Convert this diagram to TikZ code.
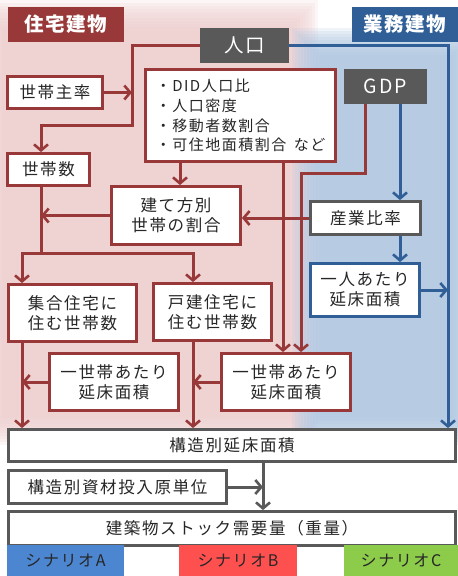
\documentclass[tikz,border=0pt]{standalone}
\usepackage{fontspec}
\setmainfont{Noto Sans CJK JP}
\newfontfamily\jp[LetterSpace=10]{Noto Sans CJK JP}
\newfontfamily\jpb[LetterSpace=8]{Noto Sans CJK JP}
\usetikzlibrary{arrows.meta}
\definecolor{cred}{HTML}{983838}
\definecolor{cblue}{HTML}{2F5F96}
\definecolor{cgray}{HTML}{595959}
\definecolor{pinkbg}{HTML}{EFCFCF}
\definecolor{bluebg}{HTML}{AFC6E2}
\definecolor{scA}{HTML}{4C86D0}
\definecolor{scB}{HTML}{FF5050}
\definecolor{scC}{HTML}{8DCB4A}
\definecolor{txt}{HTML}{262626}
\tikzset{
  box/.style={draw, line width=2.8pt, fill=white, inner sep=0pt, align=center,
    font=\jp\fontsize{16.5}{20}\selectfont, text=txt},
  rbox/.style={box, draw=cred},
  bbox/.style={box, draw=cblue},
  gbox/.style={box, draw=cgray},
  dbox/.style={fill=cgray, inner sep=0pt, text=white, font=\jp\fontsize{19.5}{22}\selectfont},
  titlebox/.style={inner sep=0pt, text=white, font=\jpb\bfseries\fontsize{19.5}{22}\selectfont},
  scen/.style={inner sep=0pt, text=txt, font=\jp\fontsize{16}{18}\selectfont},
  arr/.style={-{Straight Barb[length=6pt,width=14pt,line width=2.6pt]}},
  rl/.style={draw=cred, line width=3pt},
  bl/.style={draw=cblue, line width=3pt},
  gl/.style={draw=cgray, line width=3pt},
}
\begin{document}
\begin{tikzpicture}[x=1pt,y=-1pt]
\useasboundingbox (0,0) rectangle (458,576);
\fill[white] (0,0) rectangle (458,576);
% backgrounds (soft edges)
\foreach \i in {0,...,9}{
  \fill[pinkbg, opacity=0.18] (-25+\i*3, 0+\i*3) rectangle (318-\i*3, 445-\i*3);
}
\foreach \i in {0,...,9}{
  \fill[bluebg, opacity=0.19] (292+\i*3, 28+\i*3) rectangle (480-\i*3, 445-\i*3);
}
% titles
\node[titlebox, fill=cred, minimum width=116pt, minimum height=35pt] (tjutaku) at (66,24.5) {住宅建物};
\node[titlebox, fill=cblue, minimum width=106pt, minimum height=35pt] (tgyomu) at (405,24.5) {業務建物};
% dark boxes
\node[dbox, minimum width=89pt, minimum height=35pt] (jinko) at (244.5,45.5) {人口};
\node[dbox, minimum width=83pt, minimum height=35pt] (gdp) at (385.5,86.5) {GDP};
% red boxes
\node[rbox, minimum width=95pt, minimum height=32pt] (setainushi) at (55,92.5) {世帯主率};
\node[rbox, minimum width=190pt, minimum height=92pt, align=left, font=\jp\fontsize{15}{19.8}\selectfont] (bullet) at (240.5,115.5)
  {・DID人口比\\・人口密度\\・移動者数割合\\・可住地面積割合\hspace{0.5em}など};
\node[rbox, minimum width=82pt, minimum height=32pt] (setaisu) at (48.5,169.5) {世帯数};
\node[rbox, minimum width=129pt, minimum height=58pt] (tatekata) at (176,215.5) {建て方別\\世帯の割合};
\node[rbox, minimum width=128pt, minimum height=57pt] (shugo) at (72.5,313) {集合住宅に\\住む世帯数};
\node[rbox, minimum width=118pt, minimum height=57pt] (kodate) at (212.5,312) {戸建住宅に\\住む世帯数};
\node[rbox, minimum width=129pt, minimum height=57pt] (ichiL) at (114,382) {一世帯あたり\\延床面積};
\node[rbox, minimum width=129pt, minimum height=57pt] (ichiR) at (286,382) {一世帯あたり\\延床面積};
% blue / gray boxes
\node[gbox, minimum width=110pt, minimum height=33pt] (sangyo) at (365.5,218) {産業比率};
\node[bbox, minimum width=109pt, minimum height=53pt] (hitori) at (365,290) {一人あたり\\延床面積};
\node[gbox, minimum width=447pt, minimum height=32pt] (kozo) at (232,445.5) {構造別延床面積};
\node[gbox, minimum width=218pt, minimum height=33pt] (shizai) at (117.5,487) {構造別資材投入原単位};
\node[gbox, minimum width=447pt, minimum height=34pt] (stock) at (232,528.5) {建築物ストック需要量（重量）};
% scenarios
\node[scen, fill=scA, minimum width=117pt, minimum height=31pt] (scenA) at (65.5,560.5) {シナリオA};
\node[scen, fill=scB, minimum width=118pt, minimum height=31pt] (scenB) at (238,560.5) {シナリオB};
\node[scen, fill=scC, minimum width=114pt, minimum height=31pt] (scenC) at (401,560.5) {シナリオC};
% helper coordinates
\coordinate (xA) at (22,0);
\coordinate (xB) at (41,0);
\coordinate (xC) at (132,0);
\coordinate (xD) at (193,0);
\coordinate (xE) at (180,0);
\coordinate (xF) at (283,0);
\coordinate (xG) at (301,0);
\coordinate (xH) at (365,0);
\coordinate (xI) at (400,0);
\coordinate (xJ) at (448,0);
\coordinate (xK) at (263,0);
\coordinate (yK) at (0,125);
\coordinate (yG) at (0,173);
\coordinate (yBr) at (0,253);
% connectors
\draw[rl, arr] (jinko.west) -| (xC |- yK) -| (setaisu.north -| xB);
\draw[rl, arr] (setainushi.east) -- (setainushi.east -| xC);
\draw[bl, arr] (jinko.east) -| (kozo.north -| xJ);
\draw[bl, arr] (gdp.south -| xI) -- (sangyo.north -| xI);
\draw[rl, arr] (gdp.south -| xH) |- (yG -| xG) -- (ichiR.north -| xG);
\draw[rl, arr] (bullet.south -| xF) -- (ichiR.north -| xF);
\draw[rl, arr] (bullet.south -| xE) -- (tatekata.north -| xE);
\draw[rl, arr] (sangyo.west) -- (sangyo.west -| tatekata.east);
\draw[bl, arr] (sangyo.south -| xI) -- (hitori.north -| xI);
\draw[bl, arr] (hitori.east) -- (hitori.east -| xJ);
\draw[rl] (setaisu.south -| xB) -- (yBr -| xB);
\draw[rl, arr] (yBr -| xB) -| (shugo.north -| xA);
\draw[rl, arr] (yBr -| xB) -| (kodate.north -| xD);
\draw[rl, arr] (tatekata.west) -- (tatekata.west -| xB);
\draw[rl, arr] (shugo.south -| xA) -- (kozo.north -| xA);
\draw[rl, arr] (ichiL.west) -- (ichiL.west -| xA);
\draw[rl, arr] (kodate.south -| xD) -- (kozo.north -| xD);
\draw[rl, arr] (ichiR.west) -- (ichiR.west -| xD);
\draw[gl, arr] (kozo.south -| xK) -- (stock.north -| xK);
\draw[gl, arr] (shizai.east) -- (shizai.east -| xK);
\end{tikzpicture}
\end{document}
